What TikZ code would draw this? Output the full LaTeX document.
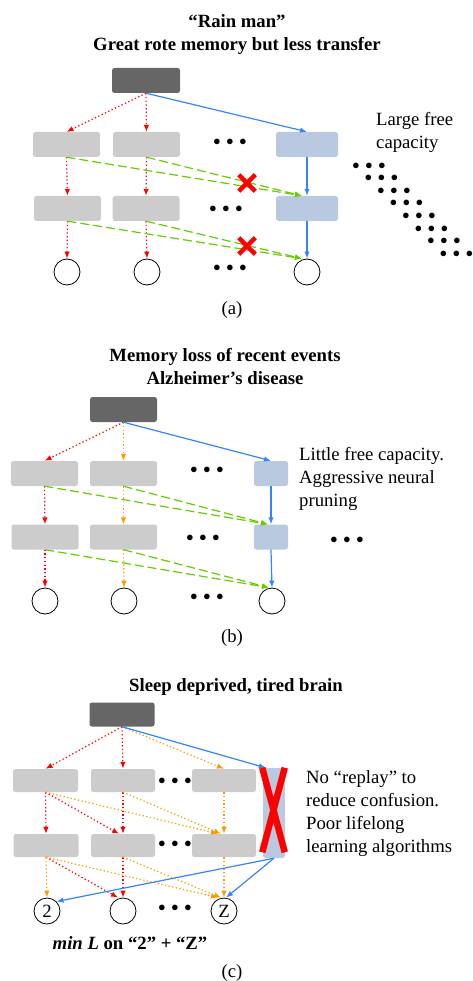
\documentclass[tikz,border=0pt]{standalone}
\usepackage{fontspec}
\setmainfont{Liberation Serif}
\usetikzlibrary{arrows.meta,shapes.misc}
\definecolor{boxdark}{RGB}{102,102,102}
\definecolor{boxgray}{RGB}{204,204,204}
\definecolor{boxblue}{RGB}{184,201,224}
\definecolor{arrred}{RGB}{255,0,0}
\definecolor{arrorange}{RGB}{255,153,0}
\definecolor{arrblue}{RGB}{51,133,255}
\definecolor{arrgreen}{RGB}{102,204,0}
\newcommand{\tridots}{{\fontsize{15}{15}\selectfont$\bullet\hspace{2.6pt}\bullet\hspace{2.6pt}\bullet$}}

\begin{document}
\begin{tikzpicture}[x=1pt, y=-1pt, >={Latex[length=7pt,width=5.5pt]},
  font=\fontsize{18.7}{23}\selectfont,
  inbox/.style={fill=boxdark, rounded corners=2.5pt, minimum width=68pt, minimum height=25pt, inner sep=0pt},
  hidbox/.style={fill=boxgray, rounded corners=2.5pt, minimum width=67pt, minimum height=25pt, inner sep=0pt},
  freebox/.style={fill=boxblue, rounded corners=2.5pt, minimum height=25pt, inner sep=0pt},
  outcirc/.style={circle, draw, line width=0.8pt, minimum size=26pt, inner sep=0pt},
  dotrow/.style={inner sep=0pt},
  redline/.style={->, arrred, line width=1.2pt, dash pattern=on 1.3pt off 2.4pt},
  orangeline/.style={->, arrorange, line width=1.2pt, dash pattern=on 1.3pt off 2.4pt},
  blueline/.style={->, arrblue, line width=1.2pt},
  greenline/.style={->, arrgreen, line width=1.2pt, dash pattern=on 9pt off 4pt},
  xmark/.style={cross out, draw=arrred, line width=4.5pt, minimum size=12pt, inner sep=0pt},
  titletext/.style={align=center, font=\fontsize{18.7}{23}\selectfont\bfseries},
  sidetext/.style={align=left, anchor=west, inner sep=0pt}]
\useasboundingbox (0,0) rectangle (472,981);

% (a) Rain man
\node[titletext] (ta) at (237,34.5) {“Rain man”\\Great rote memory but less transfer};
\node[inbox] (atop) at (146,80.5) {};
\node[hidbox] (a11) at (66.5,144.5) {};
\node[hidbox] (a12) at (146.5,144.5) {};
\node[freebox, minimum width=62pt] (af1) at (307,144.5) {};
\node[hidbox] (a21) at (67.5,208.5) {};
\node[hidbox] (a22) at (146,208.5) {};
\node[freebox, minimum width=62pt] (af2) at (307,208.5) {};
\node[outcirc] (ao1) at (67,272) {};
\node[outcirc] (ao2) at (147,272) {};
\node[outcirc] (ao3) at (307,272) {};
\node[dotrow] (adots1) at (230,142) {\tridots};
\node[dotrow] (adots2) at (226,209) {\tridots};
\node[dotrow] (adots3) at (230,268) {\tridots};
\foreach \i in {0,...,7}
  \node[dotrow] (add\i) at ({369+12.5*\i},{166+12.57*\i}) {\tridots};
\node[sidetext] (acap) at (376,132.5) {Large free\\capacity};
\draw[redline] (atop.south) -- (a11.north);
\draw[redline] (atop.south) -- (a12.north);
\draw[blueline] (atop.south) -- (af1.north);
\draw[redline] (a11.south) -- (a21.north);
\draw[redline] (a12.south) -- (a22.north);
\draw[blueline] (af1.south) -- (af2.north);
\draw[greenline] (a11.south) -- ([xshift=-5pt]af2.north);
\draw[greenline] (a12.south) -- ([xshift=-5pt]af2.north);
\draw[redline] (a21.south) -- (ao1.north);
\draw[redline] (a22.south) -- (ao2.north);
\draw[blueline] (af2.south) -- (ao3.north);
\draw[greenline] (a21.south) -- ([xshift=-5pt]ao3.north);
\draw[greenline] (a22.south) -- ([xshift=-5pt]ao3.north);
\node[xmark] (ax1) at (247,183) {};
\node[xmark] (ax2) at (247,246) {};
\node (alab) at (232,310) {(a)};

% (b) Alzheimer
\node[titletext] (tb) at (225,366.5) {Memory loss of recent events\\Alzheimer’s disease};
\node[inbox, minimum width=67pt] (btop) at (123.5,409.5) {};
\node[hidbox] (b11) at (44.5,473.5) {};
\node[hidbox] (b12) at (123.5,473.5) {};
\node[freebox, minimum width=34pt] (bf1) at (271,473.5) {};
\node[hidbox] (b21) at (45,537) {};
\node[hidbox] (b22) at (123.5,537) {};
\node[freebox, minimum width=34pt] (bf2) at (271,537) {};
\node[outcirc] (bo1) at (45,601) {};
\node[outcirc] (bo2) at (124,601) {};
\node[outcirc] (bo3) at (272,601) {};
\node[dotrow] (bdots1) at (207,470) {\tridots};
\node[dotrow] (bdots2) at (203,538) {\tridots};
\node[dotrow] (bdots3) at (207,597) {\tridots};
\node[dotrow] (bdots4) at (347,540) {\tridots};
\node[sidetext] (bcap) at (299,479) {Little free capacity.\\Aggressive neural\\pruning};
\draw[redline] (btop.south) -- (b11.north);
\draw[orangeline] (btop.south) -- (b12.north);
\draw[blueline] (btop.south) -- (bf1.north);
\draw[redline] (b11.south) -- (b21.north);
\draw[orangeline] (b12.south) -- (b22.north);
\draw[blueline] (bf1.south) -- (bf2.north);
\draw[greenline] (b11.south) -- ([xshift=-3pt]bf2.north);
\draw[greenline] (b12.south) -- ([xshift=-3pt]bf2.north);
\draw[redline] (b21.south) -- (bo1.north);
\draw[orangeline] (b22.south) -- (bo2.north);
\draw[blueline] (bf2.south) -- (bo3.north);
\draw[greenline] (b21.south) -- ([xshift=-3pt]bo3.north);
\draw[greenline] (b22.south) -- ([xshift=-3pt]bo3.north);
\node (blab) at (232,638) {(b)};

% (c) Sleep deprived
\node[titletext] (tc) at (236,687) {Sleep deprived, tired brain};
\node[inbox, minimum width=65pt, minimum height=24pt] (ctop) at (122,714.5) {};
\node[hidbox, minimum width=65pt, minimum height=23pt] (c11) at (45.5,780.5) {};
\node[hidbox, minimum width=64pt, minimum height=23pt] (c12) at (123,780.5) {};
\node[hidbox, minimum width=64pt, minimum height=23pt] (c13) at (224,780.5) {};
\node[hidbox, minimum width=65pt, minimum height=23pt] (c21) at (46,845.5) {};
\node[hidbox, minimum width=64pt, minimum height=23pt] (c22) at (123,845.5) {};
\node[hidbox, minimum width=64pt, minimum height=23pt] (c23) at (224,845.5) {};
\node[freebox, minimum width=22pt, minimum height=90pt] (cf) at (274,813) {};
\node[outcirc] (co1) at (47,911) {2};
\node[outcirc] (co2) at (123,911) {};
\node[outcirc] (co3) at (224,911) {Z};
\node[dotrow] (cdots1) at (175,781) {\tridots};
\node[dotrow] (cdots2) at (175,844) {\tridots};
\node[dotrow] (cdots3) at (175,908) {\tridots};
\node[sidetext] (ccap) at (306,814) {No “replay” to\\reduce confusion.\\Poor lifelong\\learning algorithms};
\draw[redline] (ctop.south) -- (c11.north);
\draw[redline] (ctop.south) -- (c12.north);
\draw[orangeline] (ctop.south) -- (c13.north);
\draw[blueline] (ctop.south) -- ([xshift=3pt]cf.north west);
\draw[redline] (c11.south) -- (c21.north);
\draw[redline] (c11.south) -- ([xshift=-4pt]c22.north);
\draw[orangeline] (c11.south) -- ([xshift=-6pt]c23.north);
\draw[redline] (c12.south) -- (c22.north);
\draw[orangeline] (c12.south) -- ([xshift=-3pt]c23.north);
\draw[orangeline] (c13.south) -- (c23.north);
\draw[orangeline] (c21.south) -- (co1.north);
\draw[redline] (c21.south) -- ([xshift=-5pt]co2.north);
\draw[orangeline] (c21.south) -- ([xshift=-6pt]co3.north);
\draw[redline] (c22.south) -- (co2.north);
\draw[orangeline] (c22.south) -- ([xshift=-3pt]co3.north);
\draw[orangeline] (c23.south) -- (co3.north);
\draw[blueline] (cf.south) -- (co1.north east);
\draw[blueline] (cf.south) -- ([xshift=2pt]co3.north);
\node[xmark, line width=6.5pt, minimum width=16pt, minimum height=78pt] (cx) at (273.5,810) {};
\node[font=\fontsize{18.7}{23}\selectfont\bfseries] (cmin) at (130,943) {\textit{min L} on “2” + “Z”};
\node (clab) at (232,973) {(c)};
\end{tikzpicture}
\end{document}
